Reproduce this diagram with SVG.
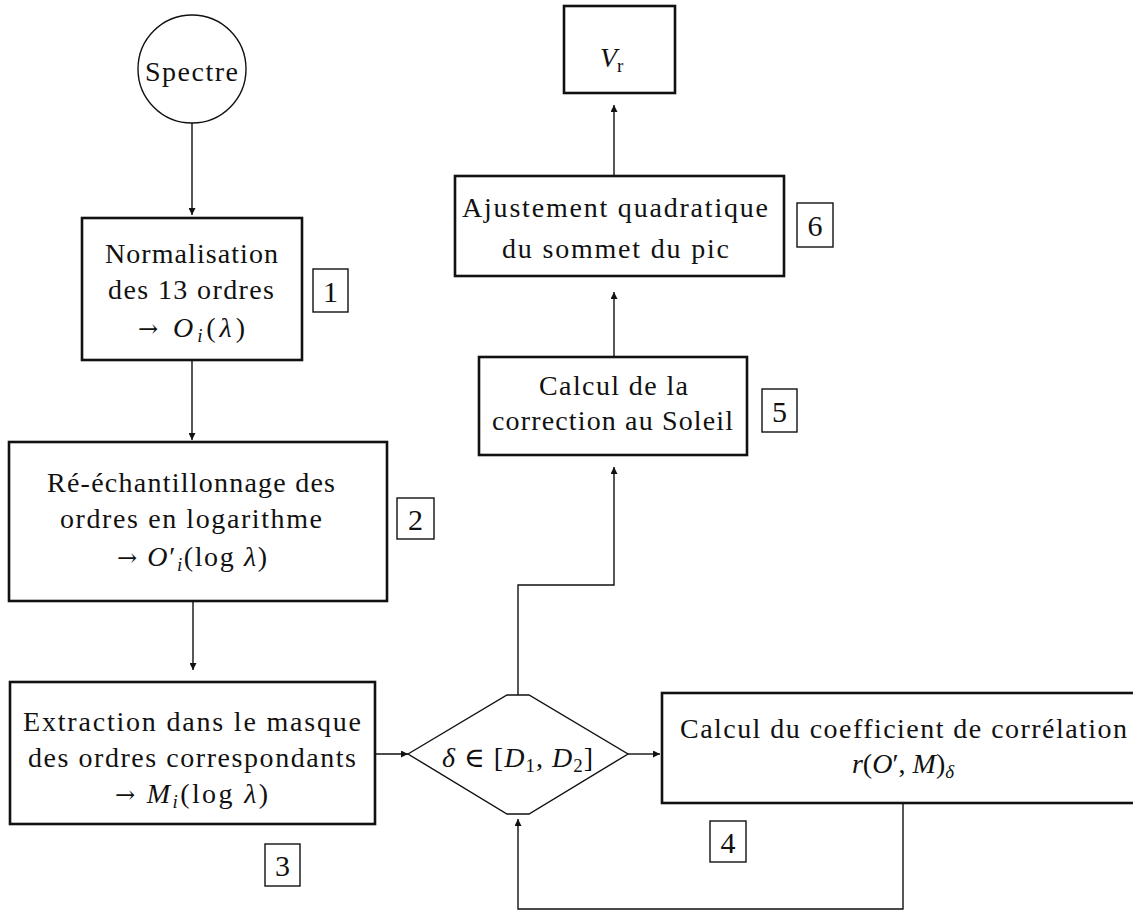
<svg xmlns="http://www.w3.org/2000/svg" width="1133" height="913" viewBox="0 0 1133 913">
<style>
.t{font-family:"Liberation Serif","DejaVu Serif",serif;font-size:28px;fill:#111}
.n{font-family:"Liberation Serif","DejaVu Serif",serif;font-size:30px;fill:#111;text-anchor:middle}
.i{font-style:italic}
.s{font-size:19px}
.ar{font-family:"DejaVu Serif",serif;font-size:24px}
.box{fill:#fff;stroke:#111;stroke-width:2.6}
.lbl{fill:none;stroke:#111;stroke-width:1.4}
.c{fill:none;stroke:#111;stroke-width:1.4}
</style>
<defs>
<marker id="ah" viewBox="0 0 10 10" refX="10" refY="5" markerWidth="10" markerHeight="7" markerUnits="userSpaceOnUse" orient="auto">
<path d="M0,0 L10,5 L0,10 z" fill="#111"/>
</marker>
</defs>
<rect width="1133" height="913" fill="#fff"/>
<g id="connectors" class="c" marker-end="url(#ah)">
<line x1="192" y1="123" x2="192" y2="215"/>
<line x1="192" y1="360" x2="192" y2="440"/>
<line x1="193" y1="601" x2="193" y2="670"/>
<line x1="375" y1="754" x2="408" y2="754"/>
<line x1="628" y1="754" x2="660" y2="754"/>
<polyline points="903,803 903,909 518,909 518,819"/>
<polyline points="518,695 518,585 614,585 614,467"/>
<line x1="614" y1="357" x2="614" y2="292"/>
<line x1="614" y1="176" x2="614" y2="105"/>
</g>
<g id="spectre">
<circle cx="192" cy="69" r="54" class="c"/>
<text class="t" x="145" y="81" textLength="93" lengthAdjust="spacing">Spectre</text>
</g>
<g id="step1">
<rect class="box" x="82" y="218" width="220" height="142"/>
<text class="t" x="105" y="263" textLength="173" lengthAdjust="spacing">Normalisation</text>
<text class="t" x="108" y="299" textLength="166" lengthAdjust="spacing">des 13 ordres</text>
<text class="t" x="138" y="337" textLength="107" lengthAdjust="spacing"><tspan class="ar">→</tspan> <tspan class="i">O</tspan><tspan class="i s" dy="5">i</tspan><tspan dy="-5">(</tspan><tspan class="i">λ</tspan>)</text>
<rect class="lbl" x="313" y="269" width="35" height="43"/>
<text class="n" x="330.5" y="302">1</text>
</g>
<g id="step2">
<rect class="box" x="9" y="442" width="378" height="159"/>
<text class="t" x="47" y="492" textLength="288" lengthAdjust="spacing">Ré-échantillonnage des</text>
<text class="t" x="60" y="528" textLength="262" lengthAdjust="spacing">ordres en logarithme</text>
<text class="t" x="117" y="566" textLength="150" lengthAdjust="spacing"><tspan class="ar">→</tspan> <tspan class="i">O</tspan>′<tspan class="i s" dy="5">i</tspan><tspan dy="-5">(log </tspan><tspan class="i">λ</tspan>)</text>
<rect class="lbl" x="397" y="498" width="37" height="41"/>
<text class="n" x="415.5" y="530">2</text>
</g>
<g id="step3">
<rect class="box" x="10" y="682" width="365" height="142"/>
<text class="t" x="23" y="731" textLength="338" lengthAdjust="spacing">Extraction dans le masque</text>
<text class="t" x="28" y="767" textLength="328" lengthAdjust="spacing">des ordres correspondants</text>
<text class="t" x="115" y="803" textLength="153" lengthAdjust="spacing"><tspan class="ar">→</tspan> <tspan class="i">M</tspan><tspan class="i s" dy="5">i</tspan><tspan dy="-5">(log </tspan><tspan class="i">λ</tspan>)</text>
<rect class="lbl" x="265" y="844" width="35" height="42"/>
<text class="n" x="282.5" y="876">3</text>
</g>
<g id="decision">
<polygon class="c" points="408,754 507,695 529,695 628,754 529,814 507,814" fill="#fff"/>
<text class="t" x="442" y="767" textLength="151" lengthAdjust="spacing"><tspan class="i">δ</tspan> ∈ [<tspan class="i">D</tspan><tspan class="s" dy="5">1</tspan><tspan dy="-5">, </tspan><tspan class="i">D</tspan><tspan class="s" dy="5">2</tspan><tspan dy="-5">]</tspan></text>
</g>
<g id="step4">
<rect class="box" x="662" y="693" width="483" height="110"/>
<text class="t" x="680" y="738" textLength="447" lengthAdjust="spacing">Calcul du coefficient de corrélation</text>
<text class="t" x="903" y="773" text-anchor="middle"><tspan class="i">r</tspan>(<tspan class="i">O</tspan>′, <tspan class="i">M</tspan>)<tspan class="i s" dy="5">δ</tspan></text>
<rect class="lbl" x="710" y="821" width="36" height="41"/>
<text class="n" x="728" y="853">4</text>
</g>
<g id="step5">
<rect class="box" x="479" y="357" width="268" height="98"/>
<text class="t" x="539" y="395" textLength="149" lengthAdjust="spacing">Calcul de la</text>
<text class="t" x="492" y="430" textLength="241" lengthAdjust="spacing">correction au Soleil</text>
<rect class="lbl" x="762" y="389" width="35" height="43"/>
<text class="n" x="779.5" y="422">5</text>
</g>
<g id="step6">
<rect class="box" x="455" y="176" width="329" height="100"/>
<text class="t" x="462" y="217" textLength="306" lengthAdjust="spacing">Ajustement quadratique</text>
<text class="t" x="502" y="258" textLength="227" lengthAdjust="spacing">du sommet du pic</text>
<rect class="lbl" x="797" y="203" width="36" height="44"/>
<text class="n" x="815" y="236">6</text>
</g>
<g id="vr">
<rect class="box" x="564" y="6" width="111" height="87"/>
<text class="t" x="600" y="67" font-size="30"><tspan class="i">V</tspan><tspan class="s" dy="5">r</tspan></text>
</g>
</svg>
